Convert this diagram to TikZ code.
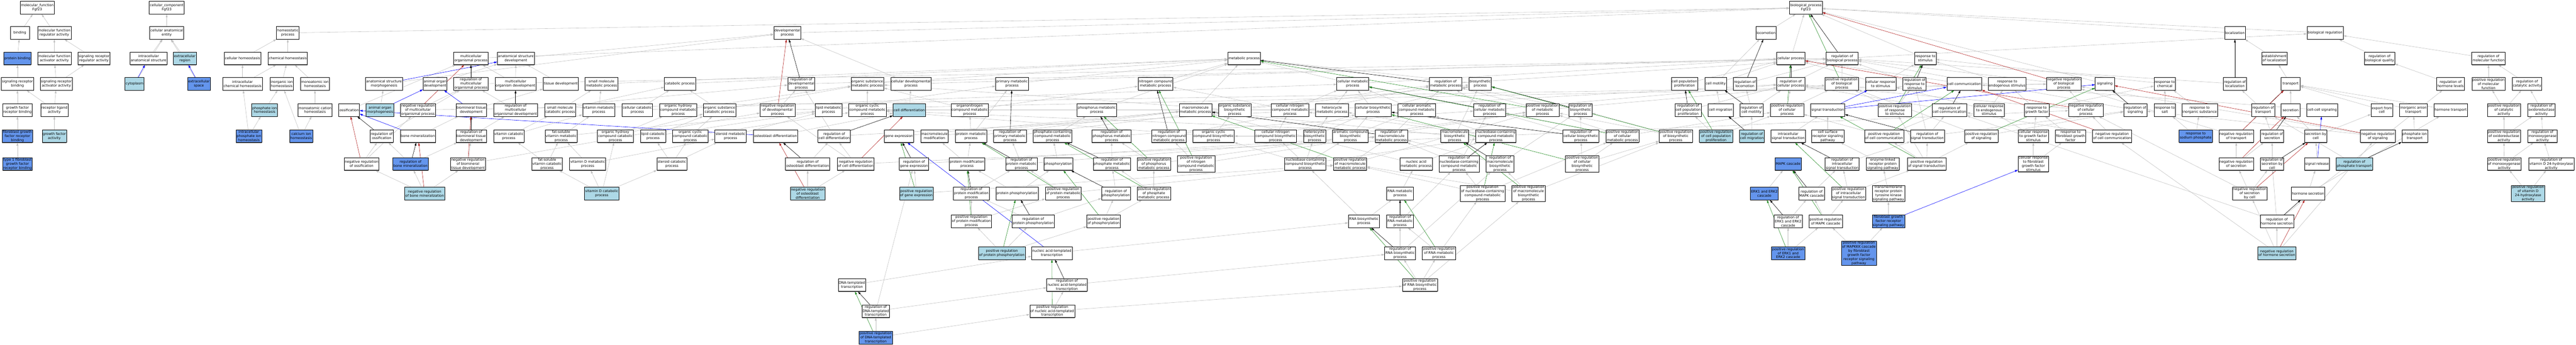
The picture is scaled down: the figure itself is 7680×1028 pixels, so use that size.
\documentclass[tikz,border=0pt]{standalone}
\usepackage{fontspec}
\setmainfont{DejaVu Sans}
\usetikzlibrary{arrows.meta,shadows}
\definecolor{lblue}{HTML}{ADD8E6}
\definecolor{cblue}{HTML}{6495ED}
\definecolor{isagray}{HTML}{C0C0C0}
\definecolor{posgreen}{HTML}{228B22}
\definecolor{negred}{HTML}{B22222}
\newcommand\termfont{\fontsize{10.2}{12.2}\selectfont}
\pgfdeclarelayer{edges}
\pgfsetlayers{edges,main}
\begin{document}
\begin{tikzpicture}[x=1pt,y=-1pt,
  term/.style={draw, rectangle, fill=white, line width=0.9pt, minimum width=57pt, minimum height=38pt,
    inner xsep=2pt, inner ysep=1pt, align=center, font=\termfont,
    drop shadow={shadow xshift=0pt, shadow yshift=-1.6pt, fill=black!55, opacity=1}},
  lb/.style={term, fill=lblue},
  cb/.style={term, fill=cblue},
  link/.style={line width=0.9pt, -{Triangle[length=9pt,width=5.5pt]}},
  isa/.style={link, isagray},
  partof/.style={link, blue},
  regul/.style={link, black},
  posreg/.style={link, posgreen},
  negreg/.style={link, negred}]
\useasboundingbox (0,0) rectangle (7680,1028);

% roots
\node (mf) at (111,23) [term] {molecular\_function\\Fgf23};
\node (cc) at (497,23) [term] {cellular\_component\\Fgf23};
\node (bp) at (5384,23) [term] {biological\_process\\Fgf23};

% row 1
\node (bind) at (59,98) [term] {binding};
\node (mfreg) at (162,98) [term] {molecular function\\regulator activity};
\node (cae) at (497,98) [term] {cellular anatomical\\entity};
\node (homeo) at (858,98) [term] {homeostatic\\process};
\node (devp) at (2347,98) [term] {developmental\\process};
\node (loco) at (5265,98) [term] {locomotion};
\node (loc) at (6663,98) [term] {localization};
\node (bioreg) at (6932,98) [term] {biological regulation};

% row 2
\node (pbind) at (52,174) [cb] {protein binding};
\node (mfact) at (162,174) [term] {molecular function\\activator activity};
\node (srra) at (280,174) [term] {signaling receptor\\regulator activity};
\node (ias) at (443,174) [term] {intracellular\\anatomical structure};
\node (exreg) at (551,174) [lb] {extracellular\\region};
\node (cellhom) at (723,174) [term] {cellular homeostasis};
\node (chemhom) at (858,174) [term] {chemical homeostasis};
\node (mop) at (1404,174) [term] {multicellular\\organismal process};
\node (asd) at (1538,174) [term] {anatomical structure\\development};
\node (metab) at (3709,174) [term] {metabolic process};
\node (cellp) at (5339,174) [term] {cellular process};
\node (rbp) at (5492,174) [term] {regulation of\\biological process};
\node (rstim) at (5740,174) [term] {response to\\stimulus};
\node (estloc) at (6781,174) [term] {establishment\\of localization};
\node (rbq) at (7094,174) [term] {regulation of\\biological quality};
\node (rmf) at (7419,174) [term] {regulation of\\molecular function};

% row 3
\node (srb) at (52,250) [term] {signaling receptor\\binding};
\node (sraa) at (168,250) [term] {signaling receptor\\activator activity};
\node (cyto) at (401,250) [lb] {cytoplasm};
\node (exsp) at (593,250) [cb] {extracellular\\space};
\node (ichem) at (723,250) [term] {intracellular\\chemical homeostasis};
\node (iih) at (840,250) [term] {inorganic ion\\homeostasis};
\node (maih) at (939,250) [term] {monoatomic ion\\homeostasis};
\node (asm) at (1145,250) [term] {anatomical structure\\morphogenesis};
\node (aod) at (1297,250) [term] {animal organ\\development};
\node (rmop) at (1404,250) [term] {regulation of\\multicellular\\organismal process};
\node (mod) at (1537,250) [term] {multicellular\\organism development};
\node (tisd) at (1672,250) [term] {tissue development};
\node (smmp) at (1793,250) [term] {small molecule\\metabolic process};
\node (catp) at (2027,250) [term] {catabolic process};
\node (rdevp) at (2389,250) [term] {regulation of\\developmental\\process};
\node (osmp) at (2586,250) [term] {organic substance\\metabolic process};
\node (celldevp) at (2716,250) [term] {cellular developmental\\process};
\node (primp) at (3017,250) [term] {primary metabolic\\process};
\node (ncmp) at (3445,250) [term] {nitrogen compound\\metabolic process};
\node (cmp) at (4033,250) [term] {cellular metabolic\\process};
\node (rmp) at (4310,250) [term] {regulation of\\metabolic process};
\node (biosyn) at (4413,250) [term] {biosynthetic\\process};
\node (cpp) at (5022,250) [term] {cell population\\proliferation};
\node (cmot) at (5115,250) [term] {cell motility};
\node (rloco) at (5202,250) [term] {regulation of\\locomotion};
\node (rcp) at (5339,250) [term] {regulation of\\cellular process};
\node (prbp) at (5491,250) [term] {positive regulation\\of biological\\process};
\node (crs) at (5607,250) [term] {cellular response\\to stimulus};
\node (rrs) at (5708,250) [term] {regulation of\\response to\\stimulus};
\node (ccomm) at (5856,250) [term] {cell communication};
\node (res) at (5984,250) [term] {response to\\endogenous stimulus};
\node (nrbp) at (6153,250) [term] {negative regulation\\of biological\\process};
\node (signl) at (6275,250) [term] {signaling};
\node (rchem) at (6454,250) [term] {response to\\chemical};
\node (rloc) at (6663,250) [term] {regulation of\\localization};
\node (transp) at (6829,250) [term] {transport};
\node (rhl) at (7306,250) [term] {regulation of\\hormone levels};
\node (prmf) at (7419,250) [term] {positive regulation\\of molecular\\function};
\node (rcat) at (7534,250) [term] {regulation of\\catalytic activity};

% row 4
\node (gfrb) at (52,328) [term] {growth factor\\receptor binding};
\node (rla) at (162,328) [term] {receptor ligand\\activity};
\node (pih) at (789,328) [lb] {phosphate ion\\homeostasis};
\node (mcah) at (939,328) [term] {monoatomic cation\\homeostasis};
\node (ossif) at (1041,328) [term] {ossification};
\node (aom) at (1133,328) [lb] {animal organ\\morphogenesis};
\node (nrmop) at (1246,328) [term] {negative regulation\\of multicellular\\organismal process};
\node (btd) at (1405,328) [term] {biomineral tissue\\development};
\node (rmod) at (1537,328) [term] {regulation of\\multicellular\\organismal development};
\node (smcp) at (1670,328) [term] {small molecule\\catabolic process};
\node (vmp) at (1785,328) [term] {vitamin metabolic\\process};
\node (ccp) at (1900,328) [term] {cellular catabolic\\process};
\node (ohcmp) at (2022,328) [term] {organic hydroxy\\compound metabolic\\process};
\node (oscp) at (2145,328) [term] {organic substance\\catabolic process};
\node (nrdevp) at (2318,328) [term] {negative regulation\\of developmental\\process};
\node (lmp) at (2470,328) [term] {lipid metabolic\\process};
\node (occmp) at (2586,328) [term] {organic cyclic\\compound metabolic\\process};
\node (celldiff) at (2711,328) [lb] {cell differentiation};
\node (oncmp) at (2891,328) [term] {organonitrogen\\compound metabolic\\process};
\node (phmp) at (3270,328) [term] {phosphorus metabolic\\process};
\node (mmp) at (3564,328) [term] {macromolecule\\metabolic process};
\node (osbp) at (3681,328) [term] {organic substance\\biosynthetic\\process};
\node (cncmp) at (3846,328) [term] {cellular nitrogen\\compound metabolic\\process};
\node (hmp) at (3971,328) [term] {heterocycle\\metabolic process};
\node (cbp) at (4094,328) [term] {cellular biosynthetic\\process};
\node (cacmp) at (4224,328) [term] {cellular aromatic\\compound metabolic\\process};
\node (rcmp) at (4441,328) [term] {regulation of\\cellular metabolic\\process};
\node (prmp) at (4599,328) [term] {positive regulation\\of metabolic\\process};
\node (rbsp) at (4712,328) [term] {regulation of\\biosynthetic\\process};
\node (rcpp) at (5033,328) [term] {regulation of\\cell population\\proliferation};
\node (cmig) at (5130,328) [term] {cell migration};
\node (rcmot) at (5222,328) [term] {regulation of\\cell motility};
\node (prcp) at (5328,328) [term] {positive regulation\\of cellular\\process};
\node (sigtr) at (5449,328) [term] {signal transduction};
\node (prrs) at (5649,328) [term] {positive regulation\\of response\\to stimulus};
\node (rcc) at (5812,328) [term] {regulation of\\cell communication};
\node (cres) at (5930,328) [term] {cellular response\\to endogenous\\stimulus};
\node (rgf) at (6072,328) [term] {response to\\growth factor};
\node (nrcp) at (6219,328) [term] {negative regulation\\of cellular\\process};
\node (rsig) at (6366,328) [term] {regulation of\\signaling};
\node (rsalt) at (6454,328) [term] {response to\\salt};
\node (ris) at (6558,328) [term] {response to\\inorganic substance};
\node (rtr) at (6747,328) [term] {regulation of\\transport};
\node (secr) at (6829,328) [term] {secretion};
\node (ccsig) at (6923,328) [term] {cell-cell signaling};
\node (expc) at (7101,328) [term] {export from\\cell};
\node (iat) at (7195,328) [term] {inorganic anion\\transport};
\node (htr) at (7306,328) [term] {hormone transport};
\node (prcat) at (7465,328) [term] {positive regulation\\of catalytic\\activity};
\node (rox) at (7577,328) [term] {regulation of\\oxidoreductase\\activity};

% row 5
\node (fgfrb) at (52,406) [cb] {fibroblast growth\\factor receptor\\binding};
\node (gfa) at (162,406) [lb] {growth factor\\activity};
\node (ipih) at (742,406) [cb] {intracellular\\phosphate ion\\homeostasis};
\node (caih) at (898,406) [cb] {calcium ion\\homeostasis};
\node (rossif) at (1138,406) [term] {regulation of\\ossification};
\node (bmin) at (1246,406) [term] {bone mineralization};
\node (rbtd) at (1405,406) [term] {regulation of\\biomineral tissue\\development};
\node (vcp) at (1517,406) [term] {vitamin catabolic\\process};
\node (fsvmp) at (1673,406) [term] {fat-soluble\\vitamin metabolic\\process};
\node (ohccp) at (1835,406) [term] {organic hydroxy\\compound catabolic\\process};
\node (lcp) at (1947,406) [term] {lipid catabolic\\process};
\node (occcp) at (2058,406) [term] {organic cyclic\\compound catabolic\\process};
\node (stmp) at (2178,406) [term] {steroid metabolic\\process};
\node (obdiff) at (2312,406) [term] {osteoblast differentiation};
\node (rcdiff) at (2487,406) [term] {regulation of\\cell differentiation};
\node (gexp) at (2680,406) [term] {gene expression};
\node (mmod) at (2786,406) [term] {macromolecule\\modification};
\node (protmp) at (2895,406) [term] {protein metabolic\\process};
\node (rprimp) at (3011,406) [term] {regulation of\\primary metabolic\\process};
\node (pccmp) at (3138,406) [term] {phosphate-containing\\compound metabolic\\process};
\node (rphmp) at (3314,406) [term] {regulation of\\phosphorus metabolic\\process};
\node (rncmp) at (3485,406) [term] {regulation of\\nitrogen compound\\metabolic process};
\node (occbp) at (3618,406) [term] {organic cyclic\\compound biosynthetic\\process};
\node (cncbp) at (3803,406) [term] {cellular nitrogen\\compound biosynthetic\\process};
\node (hbp) at (3919,406) [term] {heterocycle\\biosynthetic\\process};
\node (acbp) at (4026,406) [term] {aromatic compound\\biosynthetic\\process};
\node (rmmp) at (4148,406) [term] {regulation of\\macromolecule\\metabolic process};
\node (mbp) at (4337,406) [term] {macromolecule\\biosynthetic\\process};
\node (nccmp) at (4460,406) [term] {nucleobase-containing\\compound metabolic\\process};
\node (rcbp) at (4713,406) [term] {regulation of\\cellular biosynthetic\\process};
\node (prcmp) at (4837,406) [term] {positive regulation\\of cellular\\metabolic process};
\node (prbsp) at (4996,406) [term] {positive regulation\\of biosynthetic\\process};
\node (prcpp) at (5116,406) [lb] {positive regulation\\of cell population\\proliferation};
\node (rcmig) at (5223,406) [lb] {regulation of\\cell migration};
\node (ist) at (5331,406) [term] {intracellular\\signal transduction};
\node (csrsp) at (5449,406) [term] {cell surface\\receptor signaling\\pathway};
\node (prcc) at (5617,406) [term] {positive regulation\\of cell communication};
\node (rst) at (5746,406) [term] {regulation of\\signal transduction};
\node (prsig) at (5907,406) [term] {positive regulation\\of signaling};
\node (crgf) at (6062,406) [term] {cellular response\\to growth factor\\stimulus};
\node (rfgf) at (6173,406) [term] {response to\\fibroblast growth\\factor};
\node (nrcc) at (6297,406) [term] {negative regulation\\of cell communication};
\node (rsp) at (6546,406) [cb] {response to\\sodium phosphate};
\node (nrtr) at (6667,406) [term] {negative regulation\\of transport};
\node (rsecr) at (6774,406) [term] {regulation of\\secretion};
\node (secc) at (6904,406) [term] {secretion by\\cell};
\node (nrsig) at (7089,406) [term] {negative regulation\\of signaling};
\node (pit) at (7199,406) [term] {phosphate ion\\transport};
\node (prox) at (7465,406) [term] {positive regulation\\of oxidoreductase\\activity};
\node (rmono) at (7580,406) [term] {regulation of\\monooxygenase\\activity};

% row 6
\node (t1fgfrb) at (52,489) [cb] {type 1 fibroblast\\growth factor\\receptor binding};
\node (nrossif) at (1078,489) [term] {negative regulation\\of ossification};
\node (rbmin) at (1224,489) [cb] {regulation of\\bone mineralization};
\node (nrbtd) at (1395,489) [term] {negative regulation\\of biomineral\\tissue development};
\node (fsvcp) at (1631,489) [term] {fat-soluble\\vitamin catabolic\\process};
\node (vdmp) at (1752,489) [term] {vitamin D metabolic\\process};
\node (stcp) at (2003,489) [term] {steroid catabolic\\process};
\node (robdiff) at (2408,489) [term] {regulation of\\osteoblast differentiation};
\node (nrcdiff) at (2551,489) [term] {negative regulation\\of cell differentiation};
\node (rgexp) at (2725,489) [term] {regulation of\\gene expression};
\node (pmod) at (2883,489) [term] {protein modification\\process};
\node (rprotmp) at (3045,489) [term] {regulation of\\protein metabolic\\process};
\node (phos) at (3155,489) [term] {phosphorylation};
\node (rphosmp) at (3315,489) [term] {regulation of\\phosphate metabolic\\process};
\node (prphmp) at (3440,489) [term] {positive regulation\\of phosphorus\\metabolic process};
\node (prncmp) at (3566,489) [term] {positive regulation\\of nitrogen\\compound metabolic\\process};
\node (nccbp) at (3891,489) [term] {nucleobase-containing\\compound biosynthetic\\process};
\node (prmmp) at (4025,489) [term] {positive regulation\\of macromolecule\\metabolic process};
\node (namp) at (4222,489) [term] {nucleic acid\\metabolic process};
\node (rnccmp) at (4350,489) [term] {regulation of\\nucleobase-containing\\compound metabolic\\process};
\node (rmbp) at (4472,489) [term] {regulation of\\macromolecule\\biosynthetic\\process};
\node (prcbp) at (4717,489) [term] {positive regulation\\of cellular\\biosynthetic\\process};
\node (mapk) at (5331,489) [cb] {MAPK cascade};
\node (rist) at (5492,489) [term] {regulation of\\intracellular\\signal transduction};
\node (elrp) at (5613,489) [term] {enzyme-linked\\receptor protein\\signaling pathway};
\node (prst) at (5744,489) [term] {positive regulation\\of signal transduction};
\node (crfgf) at (6062,489) [term] {cellular response\\to fibroblast\\growth factor\\stimulus};
\node (nrsecr) at (6667,489) [term] {negative regulation\\of secretion};
\node (rsecc) at (6774,489) [term] {regulation of\\secretion by\\cell};
\node (sigrel) at (6908,489) [term] {signal release};
\node (rpt) at (7019,489) [lb] {regulation of\\phosphate transport};
\node (prmono) at (7466,489) [term] {positive regulation\\of monooxygenase\\activity};
\node (rvd) at (7606,489) [term] {regulation of\\vitamin D 24-hydroxylase\\activity};

% row 7
\node (nrbmin) at (1266,577) [lb] {negative regulation\\of bone mineralization};
\node (vdcp) at (1794,577) [lb] {vitamin D catabolic\\process};
\node (nrobdiff) at (2408,577) [lb] {negative regulation\\of osteoblast\\differentiation};
\node (prgexp) at (2732,577) [lb] {positive regulation\\of gene expression};
\node (rpmod) at (2896,577) [term] {regulation of\\protein modification\\process};
\node (pphos) at (3032,577) [term] {protein phosphorylation};
\node (prprotmp) at (3170,577) [term] {positive regulation\\of protein metabolic\\process};
\node (rphos) at (3327,577) [term] {regulation of\\phosphorylation};
\node (prphosmp) at (3440,577) [term] {positive regulation\\of phosphate\\metabolic process};
\node (rnamp) at (4174,577) [term] {RNA metabolic\\process};
\node (prnccmp) at (4420,577) [term] {positive regulation\\of nucleobase-containing\\compound metabolic\\process};
\node (prmbp) at (4557,577) [term] {positive regulation\\of macromolecule\\biosynthetic\\process};
\node (erk) at (5260,577) [cb] {ERK1 and ERK2\\cascade};
\node (rmapk) at (5401,577) [term] {regulation of\\MAPK cascade};
\node (prist) at (5511,577) [term] {positive regulation\\of intracellular\\signal transduction};
\node (rptk) at (5630,577) [term] {transmembrane\\receptor protein\\tyrosine kinase\\signaling pathway};
\node (nrsecc) at (6707,577) [term] {negative regulation\\of secretion\\by cell};
\node (hsecr) at (6881,577) [term] {hormone secretion};
\node (prvd) at (7537,577) [lb] {positive regulation\\of vitamin D\\24-hydroxylase\\activity};

% row 8
\node (prpmod) at (2896,660) [term] {positive regulation\\of protein modification\\process};
\node (rpphos) at (3080,660) [term] {regulation of\\protein phosphorylation};
\node (prphos) at (3290,660) [term] {positive regulation\\of phosphorylation};
\node (rnabp) at (4066,660) [term] {RNA biosynthetic\\process};
\node (rrnamp) at (4174,660) [term] {regulation of\\RNA metabolic\\process};
\node (rerk) at (5331,660) [term] {regulation of\\ERK1 and ERK2\\cascade};
\node (prmapk) at (5443,660) [term] {positive regulation\\of MAPK cascade};
\node (fgfrsp) at (5630,660) [cb] {fibroblast growth\\factor receptor\\signaling pathway};
\node (rhsecr) at (6788,660) [term] {regulation of\\hormone secretion};

% row 9
\node (prpphos) at (2987,755) [lb] {positive regulation\\of protein phosphorylation};
\node (natt) at (3136,755) [term] {nucleic acid-templated\\transcription};
\node (rrnabp) at (4174,755) [term] {regulation of\\RNA biosynthetic\\process};
\node (prrnamp) at (4290,755) [term] {positive regulation\\of RNA metabolic\\process};
\node (prerk) at (5331,755) [cb] {positive regulation\\of ERK1 and\\ERK2 cascade};
\node (prmapkkk) at (5542,755) [cb] {positive regulation\\of MAPKKK cascade\\by fibroblast\\growth factor\\receptor signaling\\pathway};
\node (nrhsecr) at (6788,755) [lb] {negative regulation\\of hormone secretion};

% rows 10 and 11
\node (dtt) at (2540,850) [term] {DNA-templated\\transcription};
\node (rnatt) at (3181,850) [term] {regulation of\\nucleic acid-templated\\transcription};
\node (prrnabp) at (4233,850) [term] {positive regulation\\of RNA biosynthetic\\process};
\node (rdtt) at (2611,928) [term] {regulation of\\DNA-templated\\transcription};
\node (prnatt) at (3137,928) [term] {positive regulation\\of nucleic acid-templated\\transcription};
\node (prdtt) at (2611,1007) [cb] {positive regulation\\of DNA-templated\\transcription};

\begin{pgfonlayer}{edges}
% is_a
\foreach \a/\b in {bind/mf, mfreg/mf, pbind/bind, mfact/mfreg, srra/mfreg, srb/pbind, sraa/mfact, sraa/srra,
  gfrb/srb, rla/srb, rla/sraa, fgfrb/gfrb, gfa/rla, t1fgfrb/fgfrb,
  cae/cc, ias/cae, exreg/cae, cyto/cae, exsp/cae,
  cellhom/homeo, chemhom/homeo, ichem/cellhom, ichem/chemhom, iih/chemhom, maih/chemhom, pih/iih, mcah/maih,
  ipih/ichem, ipih/pih, caih/iih, caih/mcah, homeo/bp,
  ossif/mop, asm/devp, aom/asm, aod/asd, nrmop/rmop, nrmop/nrbp, rossif/rmop, bmin/btd, rbmin/rossif, rbmin/rbtd,
  nrossif/rossif, nrossif/nrmop, nrbmin/rbmin, nrbmin/nrossif, nrbmin/nrbtd,
  mop/bp, asd/devp, devp/bp, rmop/rbp, mod/asd, mod/mop, tisd/asd, smmp/metab, catp/metab, rdevp/rbp, osmp/metab,
  btd/tisd, rmod/rmop, rmod/rdevp, smcp/smmp, smcp/catp, vmp/smmp, ccp/catp, ccp/cmp, ohcmp/osmp, oscp/catp, oscp/osmp,
  nrdevp/rdevp, nrdevp/nrbp, lmp/primp, occmp/osmp, rbtd/rmod, vcp/vmp, vcp/smcp, fsvmp/vmp, fsvmp/lmp,
  ohccp/ohcmp, ohccp/oscp, lcp/lmp, lcp/oscp, occcp/occmp, occcp/oscp, stmp/lmp, obdiff/celldiff, rcdiff/rdevp, rcdiff/rcp,
  nrbtd/rbtd, nrbtd/nrdevp, fsvcp/fsvmp, fsvcp/vcp, vdmp/fsvmp, vdmp/stmp, stcp/stmp, stcp/lcp, stcp/occcp,
  robdiff/rcdiff, nrcdiff/rcdiff, nrcdiff/nrdevp, nrcdiff/nrcp, vdcp/vdmp, vdcp/fsvcp, vdcp/stcp, vdcp/ohccp,
  nrobdiff/robdiff, nrobdiff/nrcdiff,
  celldevp/devp, celldevp/cellp, celldiff/celldevp, primp/metab, ncmp/metab, oncmp/ncmp, oncmp/osmp, phmp/metab, mmp/metab,
  osbp/osmp, osbp/biosyn, cncmp/ncmp, cncmp/cmp, gexp/mmp, mmod/mmp, protmp/oncmp, protmp/primp, protmp/mmp,
  rprimp/rmp, pccmp/phmp, rphmp/rcmp, rncmp/rmp, occbp/occmp, occbp/osbp, cncbp/cncmp, cncbp/cbp, rgexp/rmmp,
  prgexp/rgexp, prgexp/prmmp, pmod/mmod, pmod/protmp, rprotmp/rprimp, rprotmp/rmmp, phos/pccmp, rphosmp/rphmp,
  prphmp/rphmp, prphmp/prmp, prncmp/rncmp, prncmp/prmp, rpmod/rprotmp, pphos/pmod, pphos/phos, prprotmp/rprotmp, prprotmp/prmmp,
  prpmod/rpmod, prpmod/prprotmp, rpphos/rpmod, rpphos/rphos, prpphos/rpphos, prpphos/prpmod, prpphos/prphos,
  natt/rnabp, dtt/natt, rnatt/rrnabp, rdtt/rnatt, rdtt/rgexp, prdtt/rdtt, prdtt/prnatt, prnatt/rnatt, prnatt/prrnabp,
  rphos/rphosmp, prphosmp/rphosmp, prphosmp/prphmp, prphos/rphos, prphos/prphosmp, rnamp/namp, rnabp/rnamp, rnabp/nccbp,
  rrnamp/rnccmp, rrnabp/rrnamp, rrnabp/rmbp, prrnamp/rrnamp, prrnamp/prnccmp, prrnabp/rrnabp, prrnabp/prrnamp, prrnabp/prmbp,
  cmp/metab, cmp/cellp, rmp/rbp, biosyn/metab, hmp/cmp, hmp/occmp, cbp/cmp, cbp/biosyn, cacmp/cmp, rcmp/rmp, rcmp/rcp,
  prmp/rmp, prmp/prbp, rbsp/rmp, cpp/cellp, rcpp/rcp, prcpp/rcpp, prcpp/prcp, hbp/hmp, hbp/cbp, hbp/occbp, acbp/cacmp, acbp/cbp,
  rmmp/rmp, mbp/mmp, mbp/biosyn, nccmp/hmp, nccmp/cacmp, nccmp/cncmp, nccmp/occmp, rcbp/rbsp, rcbp/rcmp,
  prcmp/rcmp, prcmp/prmp, prcmp/prcp, prbsp/rbsp, prbsp/prmp, prmmp/rmmp, prmmp/prmp, namp/nccmp, namp/mmp,
  rnccmp/rcmp, rnccmp/rmmp, rmbp/rmmp, rmbp/rbsp, prcbp/rcbp, prcbp/prbsp, prcbp/prcmp,
  nccbp/nccmp, nccbp/hbp, nccbp/acbp, nccbp/cncbp, nccbp/occbp, prnccmp/rnccmp, prnccmp/prcmp, prnccmp/prmmp,
  prmbp/rmbp, prmbp/prbsp, prmbp/prmmp,
  erk/mapk, rmapk/rist, rerk/rmapk, prmapk/rmapk, prmapk/prist, prerk/rerk, prerk/prmapk, prist/rist, prist/prst,
  rptk/elrp, fgfrsp/rptk, prmapkkk/prmapk, prmapkkk/fgfrsp,
  loco/bp, cellp/bp, rbp/bioreg, rstim/bp, prbp/rbp, nrbp/rbp, rloco/rbp, cmot/cellp, cmot/loco, rcp/rbp, crs/rstim, crs/cellp,
  rrs/rbp, ccomm/cellp, res/rstim, signl/bp, cmig/cmot, rcmot/rloco, rcmot/rcp, prcp/rcp, prcp/prbp, prrs/rrs, prrs/prbp,
  rcc/rcp, cres/res, cres/crs, rgf/res, rgf/rchem, nrcp/rcp, nrcp/nrbp, rsig/rbp, rcmig/rcmot, ist/sigtr, csrsp/sigtr,
  prcc/rcc, prcc/prcp, rst/rcc, rst/rsig, rst/rrs, prsig/rsig, prsig/prbp, crgf/rgf, crgf/cres, rfgf/rgf, nrcc/rcc, nrcc/nrcp,
  rist/rst, elrp/csrsp, prst/rst, prst/prcc, prst/prsig, prst/prrs, crfgf/crgf, crfgf/rfgf,
  loc/bp, bioreg/bp, estloc/loc, rbq/bioreg, rmf/bioreg, rchem/rstim, rloc/rbp, transp/estloc, rhl/rbq, prmf/rmf, rcat/rmf,
  rsalt/rchem, ris/rchem, rtr/rloc, secr/transp, ccsig/ccomm, expc/transp, iat/transp, htr/transp, prcat/prmf, prcat/rcat,
  rox/rcat, rsp/rsalt, rsp/ris, nrtr/rtr, nrtr/nrbp, rsecr/rtr, secc/secr, secc/expc, nrsig/rsig, nrsig/nrbp, pit/iat,
  prox/prcat, prox/rox, rmono/rox, nrsecr/nrtr, nrsecr/rsecr, rsecc/rsecr, sigrel/secc, rpt/rtr, prmono/prox, prmono/rmono,
  rvd/rmono, nrsecc/nrsecr, nrsecc/rsecc, nrsecc/nrcp, hsecr/sigrel, hsecr/htr, rhsecr/rsecc, rhsecr/rhl, rhsecr/rcc,
  nrhsecr/rhsecr, nrhsecr/nrsecc, nrhsecr/nrsig, nrhsecr/nrcc, prvd/prmono, prvd/rvd}
  \draw[isa] (\a) -- (\b);
% part_of
\foreach \a/\b in {cyto/ias, exsp/exreg, asm/asd, aom/aod, bmin/ossif, btd/aod, obdiff/ossif, natt/gexp,
  sigtr/crs, sigtr/ccomm, sigtr/signl, fgfrsp/crfgf, sigrel/ccsig}
  \draw[partof] (\a) -- (\b);
% regulates
\foreach \a/\b in {rossif/ossif, rbmin/bmin, rmop/mop, rmod/mod, rdevp/devp, rbtd/btd, rcdiff/celldiff, robdiff/obdiff,
  rprimp/primp, rphmp/phmp, rncmp/ncmp, rgexp/gexp, rprotmp/protmp, rphosmp/pccmp, rpmod/pmod, rpphos/pphos,
  rnatt/natt, rdtt/dtt, rphos/phos, rrnamp/rnamp, rrnabp/rnabp, rmp/metab, rcmp/cmp, rbsp/biosyn, rcpp/cpp, rmmp/mmp,
  rcbp/cbp, rnccmp/nccmp, rmbp/mbp, rmapk/mapk, rerk/erk, rbp/bp, rloco/loco, rcp/cellp, rrs/rstim, rcc/ccomm,
  rsig/signl, rcmig/cmig, rcmot/cmot, rst/sigtr, rist/ist, rloc/loc, rtr/transp, rsecr/secr, rsecc/secc, rpt/pit, rhsecr/hsecr}
  \draw[regul] (\a) -- (\b);
% positively regulates
\foreach \a/\b in {prgexp/gexp, prphmp/phmp, prncmp/ncmp, prprotmp/protmp, prpmod/pmod, prpphos/pphos, prdtt/dtt,
  prnatt/natt, prphosmp/pccmp, prphos/phos, prrnamp/rnamp, prrnabp/rnabp, prmp/metab, prcmp/cmp, prbsp/biosyn,
  prcpp/cpp, prmmp/mmp, prcbp/cbp, prnccmp/nccmp, prmbp/mbp, prmapk/mapk, prerk/erk, prist/ist, prbp/bp, prcp/cellp,
  prrs/rstim, prcc/ccomm, prsig/signl, prst/sigtr}
  \draw[posreg] (\a) -- (\b);
% negatively regulates
\foreach \a/\b in {nrmop/mop, nrossif/ossif, nrbmin/bmin, nrbtd/btd, nrdevp/devp, nrcdiff/celldiff, nrobdiff/obdiff,
  nrbp/bp, nrcp/cellp, nrcc/ccomm, nrsig/signl, nrtr/transp, nrsecr/secr, nrsecc/secc, nrhsecr/hsecr}
  \draw[negreg] (\a) -- (\b);
\end{pgfonlayer}
\end{tikzpicture}
\end{document}
